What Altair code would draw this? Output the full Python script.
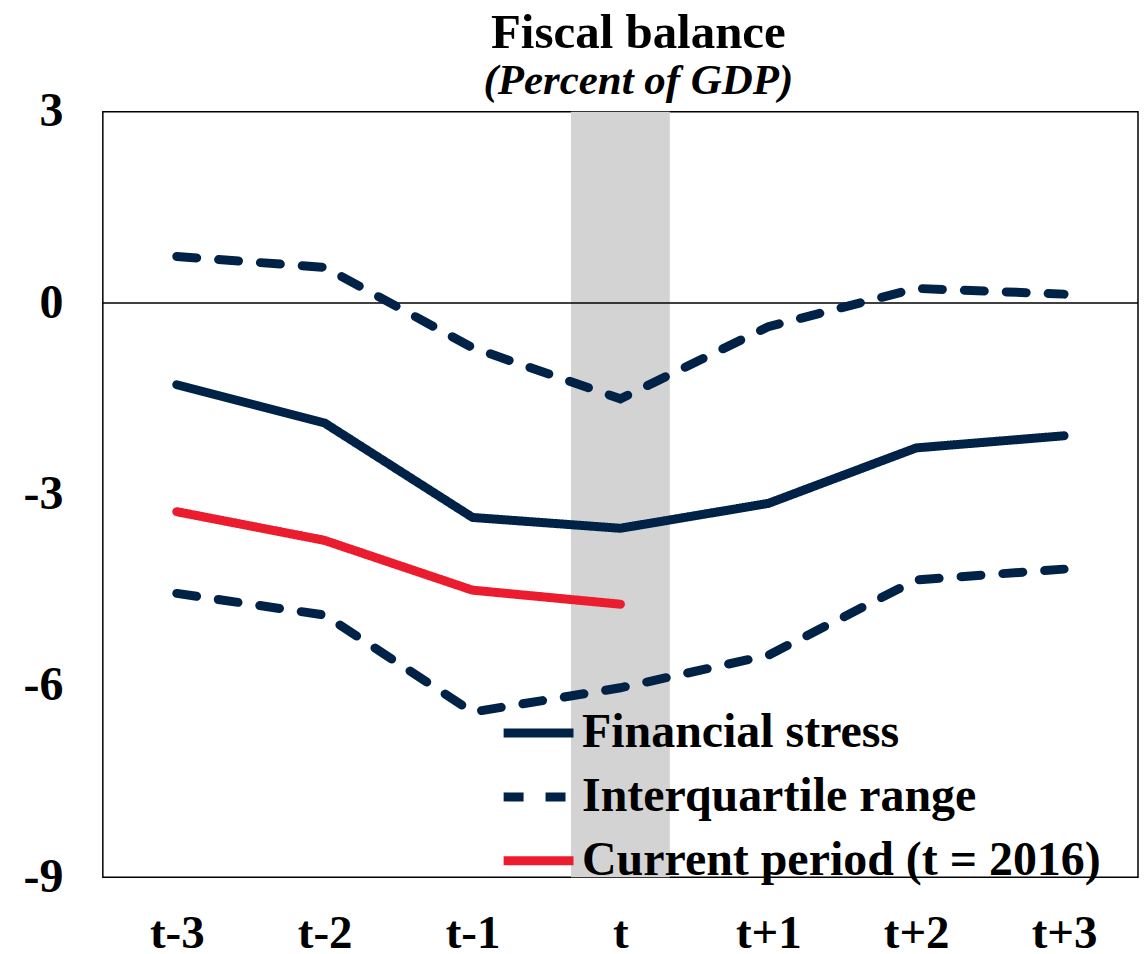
import altair as alt
import pandas as pd

periods = ["t-3", "t-2", "t-1", "t", "t+1", "t+2", "t+3"]
stress = [-1.28, -1.88, -3.36, -3.53, -3.14, -2.27, -2.08]
iqr_upper = [0.73, 0.56, -0.70, -1.50, -0.37, 0.23, 0.14]
iqr_lower = [-4.55, -4.89, -6.41, -6.03, -5.52, -4.34, -4.17]
current_periods = ["t-3", "t-2", "t-1", "t"]
current = [-3.27, -3.72, -4.50, -4.72]
y_ticks = [3, 0, -3, -6, -9]

series_names = ["Financial stress", "Interquartile range", "Current period (t = 2016)"]
series_colors = ["#002247", "#002247", "#EC1C2F"]
series_dash = [[1, 0], [20, 22], [1, 0]]

rows = []
for p, v in zip(periods, stress):
    rows.append({"period": p, "value": v, "series": series_names[0], "line": "stress"})
for p, v in zip(periods, iqr_upper):
    rows.append({"period": p, "value": v, "series": series_names[1], "line": "upper"})
for p, v in zip(periods, iqr_lower):
    rows.append({"period": p, "value": v, "series": series_names[1], "line": "lower"})
for p, v in zip(current_periods, current):
    rows.append({"period": p, "value": v, "series": series_names[2], "line": "current"})
df = pd.DataFrame(rows)

FONT = "Liberation Serif"

xscale = alt.Scale(domain=periods, type="point", padding=0.5)
yscale = alt.Scale(domain=[-9, 3], nice=False)

band = alt.Chart(pd.DataFrame({"period": ["t"], "lo": [-9], "hi": [3]})).mark_rule(
    color="#D3D3D3", strokeWidth=99, strokeCap="butt"
).encode(
    x=alt.X("period:N", scale=xscale, sort=periods),
    y=alt.Y("lo:Q", scale=yscale),
    y2="hi:Q",
)

zero = alt.Chart(pd.DataFrame({"v": [0]})).mark_rule(color="black", strokeWidth=1.5).encode(
    y=alt.Y("v:Q", scale=yscale)
)

lines = alt.Chart(df).mark_line(strokeWidth=9, strokeCap="round", strokeJoin="miter").encode(
    x=alt.X(
        "period:N",
        scale=xscale,
        sort=periods,
        axis=alt.Axis(
            title=None,
            labelAngle=0,
            labelAlign="center",
            ticks=False,
            domain=False,
            labelPadding=56,
            labelFontSize=47,
            labelFontWeight="bold",
            labelFont=FONT,
            labelColor="black",
        ),
    ),
    y=alt.Y(
        "value:Q",
        scale=yscale,
        axis=alt.Axis(
            title=None,
            values=y_ticks,
            labelExpr="'' + datum.value",
            ticks=False,
            domain=False,
            grid=False,
            labelPadding=40,
            labelFontSize=48,
            labelFontWeight="bold",
            labelFont=FONT,
            labelColor="black",
            minExtent=95,
            maxExtent=95,
        ),
    ),
    color=alt.Color(
        "series:N",
        scale=alt.Scale(domain=series_names, range=series_colors),
        legend=alt.Legend(
            title=None,
            orient="none",
            legendX=397,
            legendY=583,
            symbolType="stroke",
            symbolSize=4900,
            symbolStrokeWidth=9,
            labelFontSize=48,
            labelFontWeight="bold",
            labelFont=FONT,
            labelColor="black",
            labelOffset=4,
            labelLimit=700,
            rowPadding=-20,
        ),
    ),
    strokeDash=alt.StrokeDash(
        "series:N",
        scale=alt.Scale(domain=series_names, range=series_dash),
        legend=None,
    ),
    detail="line:N",
)

chart = alt.layer(band, zero, lines).properties(
    width=1037,
    height=767,
    background="white",
    padding={"left": 0, "top": 0, "right": 0, "bottom": 0},
    title=alt.TitleParams(
        text="Fiscal balance",
        subtitle="(Percent of GDP)",
        font=FONT,
        fontSize=49,
        fontWeight="bold",
        color="black",
        subtitleFont=FONT,
        subtitleFontSize=43,
        subtitleFontWeight="bold",
        subtitleFontStyle="italic",
        subtitleColor="black",
        subtitlePadding=2,
        anchor="middle",
        dx=18,
        offset=-41,
    ),
).configure_view(stroke="black", strokeWidth=1.5)

chart.save("out.html", embed_options={"renderer": "svg", "actions": False})
